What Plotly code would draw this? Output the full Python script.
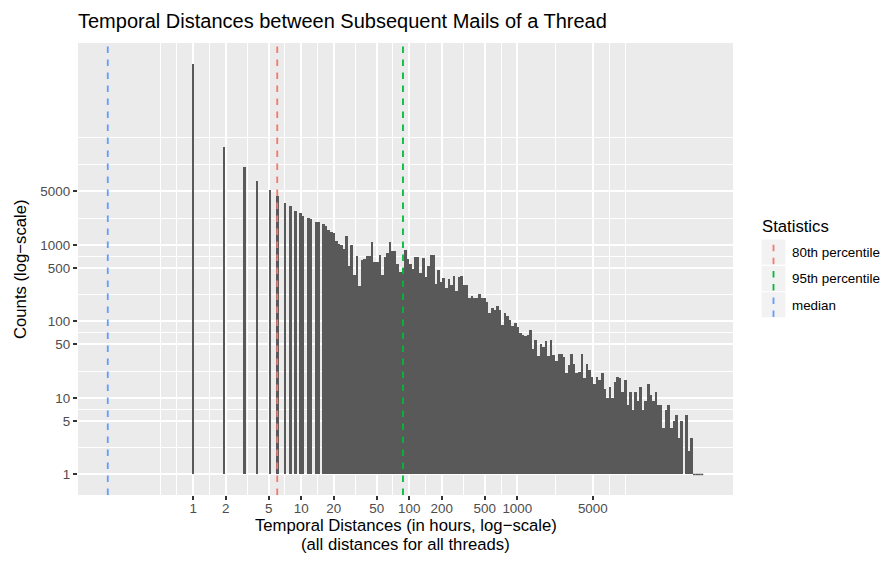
import numpy as np
import plotly.graph_objects as go

# ---------------- data ----------------
N_BINS = 200                 # histogram bins on log10(hours)
MAX_HOURS = 51200            # largest temporal distance (hours)

# isolated bars (small integer hour values) : bin index -> count
sparse_bins = [0, 12, 20, 25, 30, 33, 36, 38, 40, 42, 43, 45, 46, 48, 49]
sparse_counts = [234000, 19200, 10300, 6900, 5270, 4310, 3560, 3190, 2800, 2640,
                 2360, 2270, 2200, 1970, 2000]

# contiguous bins from bin 51 up to the last bin (199)
dense_first_bin = 51
dense_counts = [
    1890, 1750, 1580, 1460, 1450, 1120, 1040, 1000, 890, 1320,
    535, 1000, 410, 720, 290, 640, 660, 720, 720, 1080,
    603, 600, 745, 400, 700, 780, 1100, 820, 820, 570,
    445, 500, 860, 650, 560, 490, 700, 700, 430, 680,
    375, 535, 745, 745, 310, 474, 330, 373, 270, 360,
    300, 390, 250, 375, 390, 300, 300, 205, 212, 205,
    205, 228, 204, 200, 181, 130, 150, 143, 158, 140,
    90, 130, 117, 105, 88, 96, 85, 70, 67, 64,
    66, 78, 43, 58, 35, 50, 46, 56, 35, 58,
    36, 30, 37, 37, 34, 21, 27, 37, 28, 21,
    22, 37, 18, 28, 23, 19, 15, 19, 17, 21,
    13, 10, 14, 10, 16, 19, 18, 12, 17, 8,
    12, 7, 12, 9, 14, 7, 9, 15, 11, 9,
    12, 8, 8, 4, 7, 8, 4, 5, 6, 3,
    5, 0, 6, 2, 3, 1, 1, 1, 1,
]

stat_labels = ["80th percentile", "95th percentile", "median"]
stat_values = [6.0, 87.5, 0.162]
stat_colors = ["#F8766D", "#00BA38", "#619CFF"]

x_breaks = [1, 2, 5, 10, 20, 50, 100, 200, 500, 1000, 5000]
y_breaks = [1, 5, 10, 50, 100, 500, 1000, 5000]

# ---------------- derived ----------------
w = np.log10(MAX_HOURS) / (N_BINS - 1)
counts = np.zeros(N_BINS)
counts[sparse_bins] = sparse_counts
counts[dense_first_bin:dense_first_bin + len(dense_counts)] = dense_counts
centers = np.arange(N_BINS) * w

def minor_of(breaks_log):
    b = list(breaks_log)
    bd = b[1] - b[0]
    ext = [b[0] - bd] + b + [b[-1] + bd]
    mids = [(ext[i] + ext[i + 1]) / 2 for i in range(len(ext) - 1)]
    return mids + [ext[0], ext[-1]]

xb = np.log10(x_breaks)
yb = np.log10(y_breaks)

lo = min(np.log10(min(stat_values)), -w / 2)
hi = max(np.log10(max(stat_values)), (N_BINS - 0.5) * w)
pad = 0.05 * (hi - lo)
x_range = [lo - pad, hi + pad]
ymax = np.log10(counts.max())
y_range = [-0.05 * ymax, ymax * 1.05]

# ---------------- layout constants (pixels) ----------------
W, H = 885, 561
L, R, T, B = 78, 152, 43, 66
PW, PH = W - L - R, H - T - B
FONT = "Liberation Sans, Arial, Helvetica, sans-serif"

def px_x(px):
    return (px - L) / PW

def px_y(py):
    return (H - B - py) / PH

fig = go.Figure()

mask = counts > 1
fig.add_trace(go.Bar(
    x=centers[mask], y=np.log10(counts[mask]), width=w,
    marker=dict(color="#595959", line=dict(width=0)),
    showlegend=False, hoverinfo="skip",
))

# bins with a count of one (zero height on log scale) appear as a thin line
ones = np.where(counts == 1)[0]
seg_x, seg_y = [], []
for k in ones:
    seg_x += [centers[k] - w / 2, centers[k] + w / 2, None]
    seg_y += [0, 0, None]
fig.add_trace(go.Scatter(x=seg_x, y=seg_y, mode="lines",
                         line=dict(color="#595959", width=1.5),
                         showlegend=False, hoverinfo="skip"))

shapes = []
DASH = "6.5px,6.5px"
for val, col in zip(stat_values, stat_colors):
    lx = np.log10(val)
    shapes.append(dict(type="line", xref="x", yref="y domain", x0=lx, x1=lx,
                       y0=0, y1=1, line=dict(color=col, width=1.8, dash=DASH),
                       layer="above"))

annotations = []
# legend (manual, ggplot style keys)
annotations.append(dict(text="Statistics", xref="paper", yref="paper",
                        x=px_x(760), y=px_y(226), xanchor="left", yanchor="middle",
                        showarrow=False, font=dict(family=FONT, size=16.7, color="#000000")))
key_top = 239.0
key_h = 26.3
key_x0, key_x1 = 761.0, 786.0
for i, (lab, col) in enumerate(zip(stat_labels, stat_colors)):
    t = key_top + i * key_h
    b = t + key_h
    shapes.append(dict(type="rect", xref="paper", yref="paper",
                       x0=px_x(key_x0), x1=px_x(key_x1), y0=px_y(b), y1=px_y(t),
                       fillcolor="#F2F2F2", line=dict(color="#FFFFFF", width=1.2),
                       layer="above"))
    xc = (key_x0 + key_x1) / 2
    shapes.append(dict(type="line", xref="paper", yref="paper",
                       x0=px_x(xc), x1=px_x(xc), y0=px_y(b - 1), y1=px_y(t + 1),
                       line=dict(color=col, width=1.8, dash=DASH), layer="above"))
    annotations.append(dict(text=lab, xref="paper", yref="paper",
                            x=px_x(790), y=px_y((t + b) / 2 + 0.5), xanchor="left", yanchor="middle",
                            showarrow=False, font=dict(family=FONT, size=13.4, color="#000000")))

# axis titles
annotations.append(dict(text="Temporal Distances (in hours, log\u2212scale)", xref="paper", yref="paper",
                        x=0.5, y=px_y(525.5), xanchor="center", yanchor="middle", showarrow=False,
                        font=dict(family=FONT, size=16.7, color="#000000")))
annotations.append(dict(text="(all distances for all threads)", xref="paper", yref="paper",
                        x=0.5, y=px_y(544), xanchor="center", yanchor="middle", showarrow=False,
                        font=dict(family=FONT, size=16.7, color="#000000")))
annotations.append(dict(text="Counts (log\u2212scale)", xref="paper", yref="paper",
                        x=px_x(20), y=0.5, xanchor="center", yanchor="middle", textangle=-90,
                        showarrow=False, font=dict(family=FONT, size=16.7, color="#000000")))

axis_common = dict(
    showline=False, zeroline=False, showgrid=True,
    gridcolor="#FFFFFF", gridwidth=1.8,
    ticks="outside", ticklen=4.2, tickwidth=1.6, tickcolor="#333333",
    tickfont=dict(family=FONT, size=13.4, color="#4D4D4D"),
    tickmode="array",
)

fig.update_layout(
    width=W, height=H,
    margin=dict(l=L, r=R, t=T, b=B, pad=0),
    paper_bgcolor="#FFFFFF", plot_bgcolor="#EBEBEB",
    title=dict(text="Temporal Distances between Subsequent Mails of a Thread",
               xref="container", yref="container", x=L / W, xanchor="left",
               y=1 - 20.5 / H, yanchor="middle",
               font=dict(family=FONT, size=20, color="#000000")),
    xaxis=dict(axis_common, range=x_range, tickvals=list(xb),
               ticktext=[str(v) for v in x_breaks], ticklabelstandoff=-3,
               minor=dict(tickvals=minor_of(xb), showgrid=True, gridcolor="#FFFFFF",
                          gridwidth=0.9, ticks="")),
    yaxis=dict(axis_common, range=y_range, tickvals=list(yb),
               ticktext=[str(v) for v in y_breaks],
               minor=dict(tickvals=minor_of(yb), showgrid=True, gridcolor="#FFFFFF",
                          gridwidth=0.9, ticks="")),
    shapes=shapes, annotations=annotations,
    showlegend=False, bargap=0,
)

fig.write_html("out.html")
